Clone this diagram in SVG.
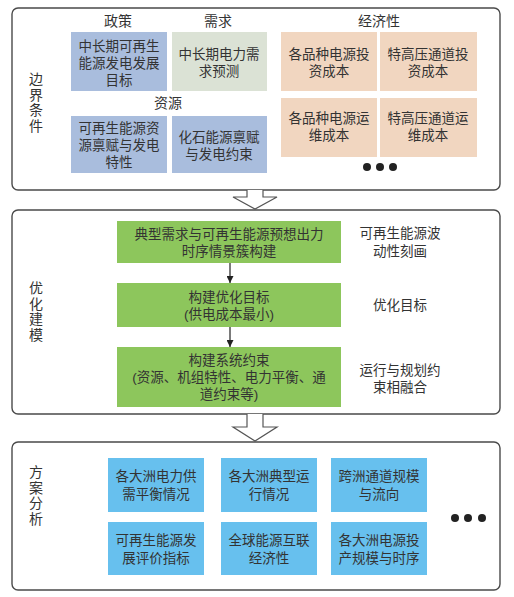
<svg xmlns="http://www.w3.org/2000/svg" width="514" height="597" viewBox="0 0 514 597">
<style>
.frame{fill:#fff;stroke:#4a4a4a;stroke-width:1.4}
.t{font-family:"Liberation Sans","Noto Sans CJK SC",sans-serif;font-size:13.5px;fill:#333;text-anchor:middle;dominant-baseline:central}
.h{font-size:14px}
.v{font-family:"Liberation Sans","Noto Sans CJK SC",sans-serif;font-size:14px;fill:#333;text-anchor:middle;writing-mode:tb;letter-spacing:1.5px}
.pol{fill:#a9bddd}
.dem{fill:#dbe2d5}
.eco{fill:#f1d6c0}
.grn{fill:#8dc65c}
.blu{fill:#67c0ee}
.dot{fill:#222}
.ln{stroke:#222;stroke-width:1.2;fill:none}
.blk{fill:#fff;stroke:#555;stroke-width:1.2}
</style>
<defs>
<marker id="ah" viewBox="0 0 10 10" refX="10" refY="5" markerWidth="7" markerHeight="7" orient="auto" markerUnits="userSpaceOnUse"><path d="M0,0L10,5L0,10z" fill="#222"/></marker>
</defs>

<g id="frame-boundary">
<rect class="frame" x="12" y="8" width="488" height="182" rx="6"/>
<text class="v" x="35" y="103">边界条件</text>
<text class="t h" x="118" y="21">政策</text>
<text class="t h" x="218" y="21">需求</text>
<text class="t h" x="168" y="103">资源</text>
<text class="t h" x="379" y="21">经济性</text>
</g>
<g id="n-policy"><rect class="pol" x="71" y="32" width="96" height="59"/><text class="t" x="119" y="46">中长期可再生<tspan x="119" dy="17">能源发电发展</tspan><tspan x="119" dy="17">目标</tspan></text></g>
<g id="n-demand"><rect class="dem" x="172" y="32" width="95" height="59"/><text class="t" x="219" y="54">中长期电力需<tspan x="219" dy="17">求预测</tspan></text></g>
<g id="n-res1"><rect class="pol" x="71" y="116" width="96" height="57"/><text class="t" x="119" y="128">可再生能源资<tspan x="119" dy="17">源禀赋与发电</tspan><tspan x="119" dy="17">特性</tspan></text></g>
<g id="n-res2"><rect class="pol" x="172" y="116" width="95" height="57"/><text class="t" x="219" y="137">化石能源禀赋<tspan x="219" dy="17">与发电约束</tspan></text></g>
<g id="n-eco1"><rect class="eco" x="281" y="32" width="96" height="59"/><text class="t" x="329" y="54">各品种电源投<tspan x="329" dy="17">资成本</tspan></text></g>
<g id="n-eco2"><rect class="eco" x="380" y="32" width="97" height="59"/><text class="t" x="428" y="54">特高压通道投<tspan x="428" dy="17">资成本</tspan></text></g>
<g id="n-eco3"><rect class="eco" x="281" y="98" width="96" height="59"/><text class="t" x="329" y="118">各品种电源运<tspan x="329" dy="17">维成本</tspan></text></g>
<g id="n-eco4"><rect class="eco" x="380" y="98" width="97" height="59"/><text class="t" x="428" y="118">特高压通道运<tspan x="428" dy="17">维成本</tspan></text></g>
<g id="dots1"><circle class="dot" cx="367" cy="167" r="4"/><circle class="dot" cx="380" cy="167" r="4"/><circle class="dot" cx="393" cy="167" r="4"/></g>

<g id="frame-model">
<rect class="frame" x="12" y="210" width="488" height="204" rx="6"/>
<text class="v" x="35" y="312">优化建模</text>
<text class="t" x="400" y="233">可再生能源波<tspan x="400" dy="18">动性刻画</tspan></text>
<text class="t" x="400" y="305">优化目标</text>
<text class="t" x="400" y="370">运行与规划约<tspan x="400" dy="17">束相融合</tspan></text>
</g>
<g id="n-scene"><rect class="grn" x="117" y="221" width="224" height="42"/><text class="t" x="229" y="234">典型需求与可再生能源预想出力<tspan x="229" dy="17">时序情景簇构建</tspan></text></g>
<g id="n-obj"><rect class="grn" x="117" y="283" width="224" height="44"/><text class="t" x="229" y="297">构建优化目标<tspan x="229" dy="17">(供电成本最小)</tspan></text></g>
<g id="n-cons"><rect class="grn" x="117" y="347" width="224" height="60"/><text class="t" x="229" y="360">构建系统约束<tspan x="229" dy="17">(资源、机组特性、电力平衡、通</tspan><tspan x="229" dy="17">道约束等)</tspan></text></g>

<g id="frame-analysis">
<rect class="frame" x="12" y="442" width="488" height="148" rx="6"/>
<text class="v" x="35" y="496">方案分析</text>
</g>
<g id="n-a1"><rect class="blu" x="108" y="458" width="96" height="54"/><text class="t" x="156" y="476">各大洲电力供<tspan x="156" dy="18">需平衡情况</tspan></text></g>
<g id="n-a2"><rect class="blu" x="221" y="458" width="96" height="54"/><text class="t" x="269" y="476">各大洲典型运<tspan x="269" dy="18">行情况</tspan></text></g>
<g id="n-a3"><rect class="blu" x="331" y="458" width="96" height="54"/><text class="t" x="379" y="476">跨洲通道规模<tspan x="379" dy="18">与流向</tspan></text></g>
<g id="n-a4"><rect class="blu" x="108" y="522" width="96" height="53"/><text class="t" x="156" y="540">可再生能源发<tspan x="156" dy="18">展评价指标</tspan></text></g>
<g id="n-a5"><rect class="blu" x="221" y="522" width="96" height="53"/><text class="t" x="269" y="540">全球能源互联<tspan x="269" dy="18">经济性</tspan></text></g>
<g id="n-a6"><rect class="blu" x="331" y="522" width="96" height="53"/><text class="t" x="379" y="540">各大洲电源投<tspan x="379" dy="18">产规模与时序</tspan></text></g>
<g id="dots2"><circle class="dot" cx="455" cy="518" r="4"/><circle class="dot" cx="468" cy="518" r="4"/><circle class="dot" cx="482" cy="518" r="4"/></g>

<g id="connectors">
<path class="blk" d="M247,190 V197 H233 L255,209 L277,197 H263 V190"/>
<path class="blk" d="M247,414 V427 H233 L255,441 L277,427 H263 V414"/>
<line class="ln" x1="230" y1="263" x2="230" y2="283" marker-end="url(#ah)"/>
<line class="ln" x1="230" y1="327" x2="230" y2="347" marker-end="url(#ah)"/>
</g>
</svg>
